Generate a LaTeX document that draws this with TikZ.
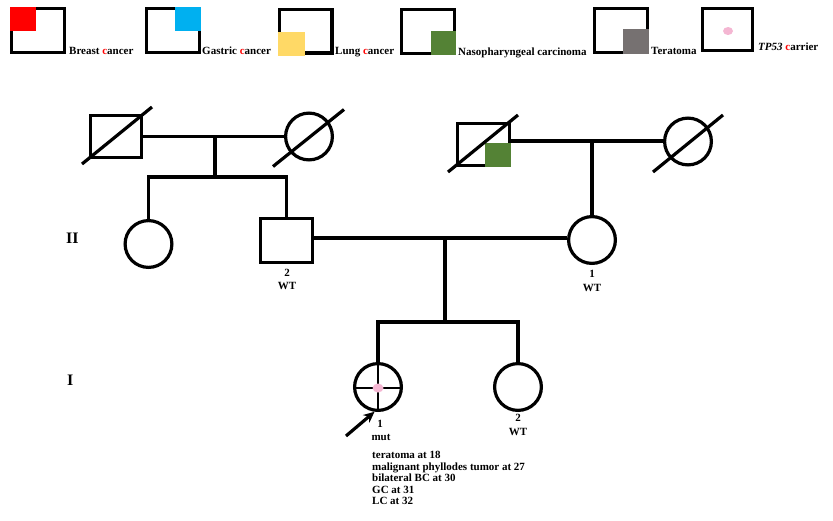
\documentclass[tikz,border=0pt]{standalone}
\usepackage{fontspec}
\setmainfont{Liberation Serif}
\usetikzlibrary{calc,arrows.meta}
\definecolor{bcred}{HTML}{FF0000}
\definecolor{gcblue}{HTML}{00B0F0}
\definecolor{lcyellow}{HTML}{FFD966}
\definecolor{npcgreen}{HTML}{548235}
\definecolor{tergray}{HTML}{767171}
\definecolor{carrierpink}{HTML}{F4B6D2}

\begin{document}
\begin{tikzpicture}[x=1pt,y=-1pt,
  legbox/.style={draw, rectangle, line width=3.2pt, inner sep=0pt, minimum width=52.8pt, minimum height=43.8pt},
  legtext/.style={anchor=base west, inner sep=0pt, font=\fontsize{11}{12}\selectfont\bfseries},
  male/.style={draw, rectangle, line width=3.2pt, inner sep=0pt, minimum width=50.8pt, minimum height=41.8pt},
  female/.style={draw, circle, line width=3.2pt, inner sep=0pt, minimum size=46.8pt},
  rel/.style={line width=3.2pt},
  dead/.style={line width=3.2pt, line cap=butt},
  lbl/.style={anchor=base, inner sep=0pt, font=\fontsize{11}{12}\selectfont\bfseries},
  note/.style={anchor=base west, inner sep=0pt, font=\fontsize{11}{12}\selectfont\bfseries},
  gen/.style={anchor=base west, inner sep=0pt, font=\fontsize{16}{18}\selectfont\bfseries},
]
\useasboundingbox (0,0) rectangle (833,520);

% ---------- legend ----------
\node[legbox] (L1) at (38,30.5) {};
\node[legbox] (L2) at (173,30.5) {};
\node[legbox] (L3) at (305.5,31) {};
\node[legbox] (L4) at (428,31.5) {};
\node[legbox] (L5) at (621,30.5) {};
\node[legbox, minimum width=49.8pt, minimum height=41.8pt] (L6) at (727.5,29.5) {};

\fill[bcred] (L1.north west) rectangle ($(L1.north west)+(26,24)$);
\fill[gcblue] (L2.north east) rectangle ($(L2.north east)+(-26,24)$);
\fill[lcyellow] ($(L3.south west)+(0,1.5)$) rectangle ($(L3.south west)+(27,-23)$);
\fill[npcgreen] (L4.south east) rectangle ($(L4.south east)+(-25,-24)$);
\fill[tergray] (L5.south east) rectangle ($(L5.south east)+(-26,-25)$);
\fill[carrierpink] ($(L6.center)+(0.5,1.5)$) ellipse (5pt and 4pt);

\node[legtext] (T1) at (69,54.5) {Breast \textcolor{bcred}{c}ancer};
\node[legtext] (T2) at (202,54.5) {Gastric \textcolor{bcred}{c}ancer};
\node[legtext] (T3) at (335,54.5) {Lung \textcolor{bcred}{c}ancer};
\node[legtext] (T4) at (458,55) {Nasopharyngeal carcinoma};
\node[legtext] (T5) at (651,54.5) {Teratoma};
\node[legtext] (T6) at (758,50) {\textit{TP53} \textcolor{bcred}{c}arrier};

% ---------- generation labels ----------
\node[gen] (G2) at (66,243) {II};
\node[gen] (G3) at (67,385) {I};

% ---------- individuals ----------
\node[male] (I1) at (116,136.5) {};
\node[female] (I2) at (309,136.5) {};
\node[male, minimum width=51.8pt, minimum height=41.8pt] (I3) at (483.5,144.5) {};
\node[female] (I4) at (688,141.5) {};

\node[female] (II1) at (148.5,244) {};
\node[male, minimum width=51.8pt, minimum height=43.8pt] (II2) at (286.5,240.5) {};
\node[female] (II3) at (592,240) {};

\node[female] (III1) at (378,387) {};
\node[female] (III2) at (518,387) {};

% affected quadrant (nasopharyngeal carcinoma)
\fill[npcgreen] (I3.south east) rectangle ($(I3.south east)+(-26,-24)$);

% deceased marks
\draw[dead] ($(I1.center)+(-34,27.5)$) -- ($(I1.center)+(36,-29.5)$);
\draw[dead] ($(I2.center)+(-36,30)$) -- ($(I2.center)+(35,-27)$);
\draw[dead] ($(I3.center)+(-35.5,27.5)$) -- ($(I3.center)+(34.5,-29.5)$);
\draw[dead] ($(I4.center)+(-35,30.5)$) -- ($(I4.center)+(35,-26.5)$);

% proband: carrier cross and dot
\draw[line width=1.5pt] ($(III1.west)+(0,1)$) -- ($(III1.east)+(0,1)$);
\draw[line width=1.5pt] (III1.north) -- (III1.south);
\fill[carrierpink] ($(III1.center)+(0,1)$) ellipse (5.5pt and 4.5pt);

% ---------- relationship and descent lines ----------
\coordinate (m1) at (215,136.5);
\coordinate (s1) at (215,177);
\coordinate (m2) at (592,141);
\coordinate (m3) at (445,238);
\coordinate (s3) at (445,322);

\draw[rel] (I1.east) -- (I2.west);
\draw[rel] (m1) -- (s1);
\draw[rel] (II1.north) |- (s1) -| (II2.north);

\draw[rel] (I3.east |- m2) -- (I4.west |- m2);
\draw[rel] (m2) -- (II3.north);

\draw[rel] (II2.east |- m3) -- (II3.west |- m3);
\draw[rel] (m3) -- (s3);
\draw[rel] (III1.north) |- (s3) -| (III2.north);

% proband arrow
\coordinate (arrtail) at (346,436);
\draw[rel, -{Stealth[length=11pt,width=10pt]}] (arrtail) -- (III1.-98);

% ---------- individual labels ----------
\node[lbl] (II2n) at (287,276) {2};
\node[lbl] (II2g) at (287,289.5) {WT};
\node[lbl] (II3n) at (592,277) {1};
\node[lbl] (II3g) at (592,291.5) {WT};
\node[lbl] (III1n) at (380,427.5) {1};
\node[lbl] (III1g) at (381,440) {mut};
\node[lbl] (III2n) at (518,421.5) {2};
\node[lbl] (III2g) at (518,435) {WT};

\node[note] (d1) at (372,458.5) {teratoma at 18};
\node[note] (d2) at (372,470) {malignant phyllodes tumor at 27};
\node[note] (d3) at (372,481.5) {bilateral BC at 30};
\node[note] (d4) at (372,493) {GC at 31};
\node[note] (d5) at (372,504.5) {LC at 32};
\end{tikzpicture}
\end{document}
